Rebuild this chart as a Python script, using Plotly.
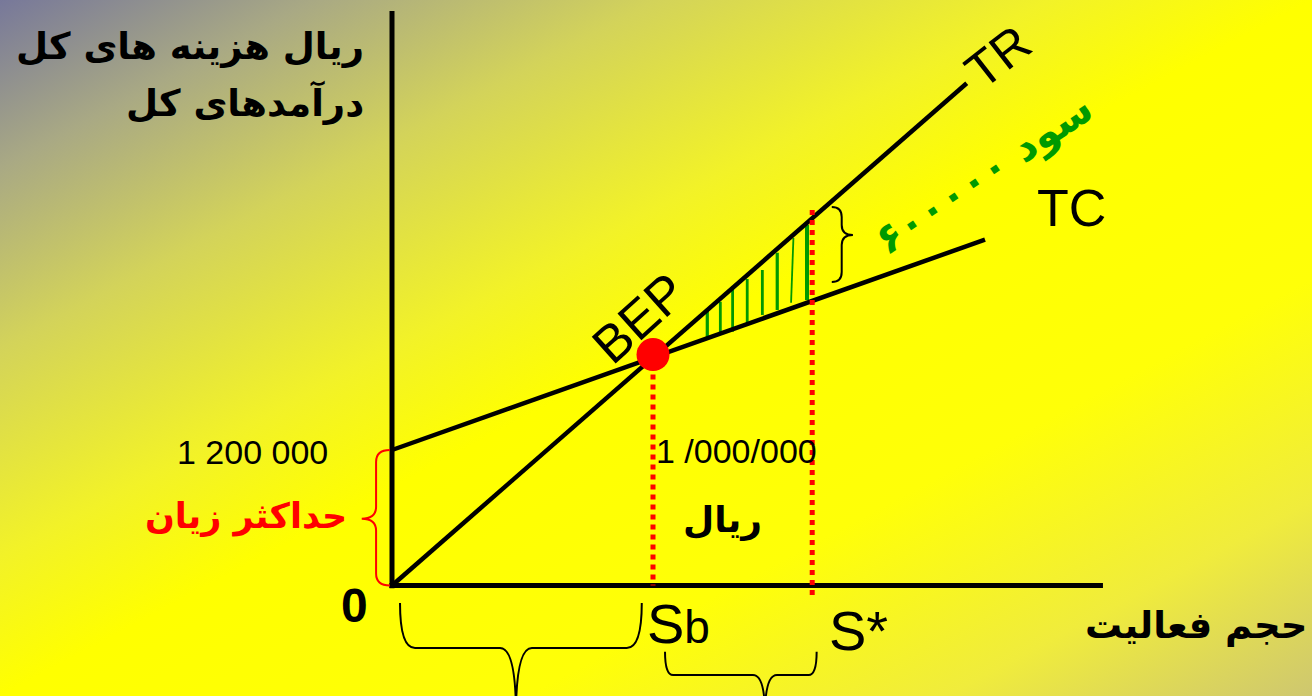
import base64
import plotly.graph_objects as go

W, H = 1312, 696

# ---------------- data ----------------
fixed_cost = 1200            # TC intercept ("1 200 000")
tr_slope = 20.2              # total revenue per unit of activity
tc_slope = 8.2               # variable cost per unit of activity
tr_x_end = 220.2
tc_x_end = 227.2
sb = 100                     # break-even activity volume (Sb)
s_star = 161                 # target activity volume (S*)
bep_y = 2045                 # BEP marker level
x_axis_max = 272.4
y_axis_max = 5088
s_star_top = 3325
s_star_bottom = -102

hatch_x_top = [120.8, 125.8, 130.5, 136.1, 141.9, 147.6, 153.8, 159.0]
hatch_x_bottom = [120.8, 125.8, 130.5, 136.1, 141.9, 147.6, 152.9, 159.0]
hatch_top = [2449, 2513, 2652, 2714, 2794, 2947, 3077, 3193]
hatch_bottom = [2183, 2239, 2248, 2307, 2396, 2440, 2504, 2528]
hatch_width = [3.2, 2.8, 2.8, 2.8, 2.8, 3.2, 1.8, 4]

labels = {
    "y_title_1": "ریال هزینه های کل",
    "y_title_2": "درآمدهای کل",
    "x_title": "حجم فعالیت",
    "fixed": "1 200 000",
    "max_loss": "حداکثر زیان",
    "bep_value": "1 /000/000",
    "rial": "ریال",
    "profit": "سود ۶۰۰۰۰۰",
}

# ---------------- layout scale (pixels per unit) ----------------
px0, py0 = 392, 585.5
kx = 2.61
ky = 135.5 / fixed_cost
x_range = [-px0 / kx, (W - px0) / kx]
y_range = [-(H - py0) / ky, py0 / ky]

PERSIAN = "DejaVu Sans"
LATIN = "Liberation Sans, Arial"
NARROW = "Liberation Sans Narrow, Arial Narrow, Liberation Sans, Arial"

fig = go.Figure()

# hatch (profit area)
for xt, xb, yt, yb, w in zip(hatch_x_top, hatch_x_bottom, hatch_top, hatch_bottom, hatch_width):
    fig.add_trace(go.Scatter(x=[xb, xt], y=[yb, yt], mode="lines",
                             line=dict(color="#009a00", width=w),
                             hoverinfo="skip", showlegend=False))

# axes lines
fig.add_trace(go.Scatter(x=[0, 0], y=[-25, y_axis_max], mode="lines",
                         line=dict(color="black", width=5), hoverinfo="skip", showlegend=False))
fig.add_trace(go.Scatter(x=[-1, x_axis_max], y=[0, 0], mode="lines",
                         line=dict(color="black", width=5), hoverinfo="skip", showlegend=False))

# TR and TC
fig.add_trace(go.Scatter(x=[0, tr_x_end], y=[0, tr_slope * tr_x_end], mode="lines",
                         line=dict(color="black", width=4.5), name="TR", showlegend=False))
fig.add_trace(go.Scatter(x=[0, tc_x_end], y=[fixed_cost, fixed_cost + tc_slope * tc_x_end],
                         mode="lines", line=dict(color="black", width=4.5), name="TC",
                         showlegend=False))

# red dotted guides
fig.add_trace(go.Scatter(x=[sb, sb], y=[bep_y, 0], mode="lines",
                         line=dict(color="#ff0000", width=5, dash="dot"),
                         hoverinfo="skip", showlegend=False))
fig.add_trace(go.Scatter(x=[s_star, s_star], y=[s_star_top, s_star_bottom], mode="lines",
                         line=dict(color="#ff0000", width=5, dash="dot"),
                         hoverinfo="skip", showlegend=False))

# BEP point
fig.add_trace(go.Scatter(x=[sb], y=[bep_y], mode="markers",
                         marker=dict(color="#ff0000", size=33, line=dict(width=0)),
                         name="BEP", showlegend=False))


def vbrace(y0, y1, x_end, x_body, x_tip, y_tip, r):
    return (f"M {x_end},{y1} Q {x_body},{y1} {x_body},{y1 - r} "
            f"L {x_body},{y_tip + r} Q {x_body},{y_tip} {x_tip},{y_tip} "
            f"Q {x_body},{y_tip} {x_body},{y_tip - r} "
            f"L {x_body},{y0 + r} Q {x_body},{y0} {x_end},{y0}")


def hbrace(x0, x1, y_end, y_body, x_tip, y_tip, r_end, r_tip):
    return (f"M {x0},{y_end} Q {x0},{y_body} {x0 + r_end},{y_body} "
            f"L {x_tip - r_tip},{y_body} Q {x_tip},{y_body} {x_tip},{y_tip} "
            f"Q {x_tip},{y_body} {x_tip + r_tip},{y_body} "
            f"L {x1 - r_end},{y_body} Q {x1},{y_body} {x1},{y_end}")


shapes = [
    dict(type="path", xref="x", yref="y",
         path=vbrace(0, fixed_cost, -0.8, -6.1, -11.6, 592, 106),
         line=dict(color="#ff0000", width=2)),
    dict(type="path", xref="x", yref="y",
         path=vbrace(2688, 3352, 168.5, 172.3, 176.6, 3104, 89),
         line=dict(color="black", width=2)),
    dict(type="path", xref="x", yref="y",
         path=hbrace(3.07, 95.7, -155, -553.5, 47.5, -1150, 5.75, 6.1),
         line=dict(color="black", width=2)),
    dict(type="path", xref="x", yref="y",
         path=hbrace(104.6, 162.7, -586.3, -792.6, 142.9, -1150, 3.1, 4.6),
         line=dict(color="black", width=2)),
]


def ann(text, x, y, size, family, color="black", bold=False, angle=0,
        xanchor="center", yanchor="middle", xref="x", yref="y"):
    return dict(text=text, x=x, y=y, xref=xref, yref=yref, showarrow=False,
                xanchor=xanchor, yanchor=yanchor, textangle=angle,
                font=dict(size=size, family=family, color=color,
                          weight="bold" if bold else "normal"))


def px_x(p):
    return (p - px0) / kx


def px_y(p):
    return (py0 - p) / ky


annotations = [
    ann(labels["y_title_1"], px_x(366), px_y(46), 37, PERSIAN, bold=True, xanchor="right"),
    ann(labels["y_title_2"], px_x(366), px_y(102), 37, PERSIAN, bold=True, xanchor="right"),
    ann(labels["x_title"], px_x(1309), px_y(625), 37, PERSIAN, bold=True, xanchor="right"),
    ann("0", px_x(354), px_y(605), 48, LATIN, bold=True),
    ann("S<span style='font-size:46px'>b</span>", px_x(645), px_y(623), 56, LATIN,
        xanchor="left"),
    ann("S*", px_x(827), px_y(630), 56, LATIN, xanchor="left"),
    ann("TR", px_x(998), px_y(57), 50, LATIN, angle=-38),
    ann("TC", px_x(1071), px_y(208), 52, LATIN),
    ann("BEP", px_x(639), px_y(318), 52, LATIN, angle=-42),
    ann(labels["fixed"], px_x(252), px_y(452), 34, NARROW),
    ann(labels["bep_value"], px_x(736), px_y(451), 34, NARROW),
    ann(labels["rial"], px_x(722), px_y(520), 36, PERSIAN, bold=True),
    ann(labels["max_loss"], px_x(246), px_y(516), 35, PERSIAN, color="#ff0000", bold=True),
    ann(labels["profit"], px_x(984), px_y(174), 41, PERSIAN, color="#009a00", bold=True,
        angle=-34),
]

svg = f"""<svg xmlns='http://www.w3.org/2000/svg' width='{W}' height='{H}'>
<defs><linearGradient id='g' x1='0' y1='0' x2='1' y2='1'>
<stop offset='0' stop-color='#77789a'/>
<stop offset='0.12' stop-color='#a9a984'/>
<stop offset='0.25' stop-color='#d3d35a'/>
<stop offset='0.4' stop-color='#f2f228'/>
<stop offset='0.5' stop-color='#ffff00'/>
<stop offset='0.7' stop-color='#ffff08'/>
<stop offset='0.86' stop-color='#f0ec3c'/>
<stop offset='1' stop-color='#cec770'/>
</linearGradient></defs>
<rect width='{W}' height='{H}' fill='url(#g)'/></svg>"""
bg_src = "data:image/svg+xml;base64," + base64.b64encode(svg.encode("utf-8")).decode("ascii")

fig.update_layout(
    width=W, height=H,
    margin=dict(l=0, r=0, t=0, b=0, pad=0),
    paper_bgcolor="#ffff00",
    plot_bgcolor="rgba(0,0,0,0)",
    showlegend=False,
    xaxis=dict(range=x_range, visible=False, fixedrange=True),
    yaxis=dict(range=y_range, visible=False, fixedrange=True),
    shapes=shapes,
    annotations=annotations,
    images=[dict(source=bg_src, xref="paper", yref="paper", x=0, y=1,
                 sizex=1, sizey=1, sizing="stretch", xanchor="left", yanchor="top",
                 layer="below")],
    hovermode=False,
)

fig.write_html("out.html", include_plotlyjs=True, config={"displayModeBar": False},
               post_script="document.body.style.margin='0';document.body.style.overflow='hidden';")
